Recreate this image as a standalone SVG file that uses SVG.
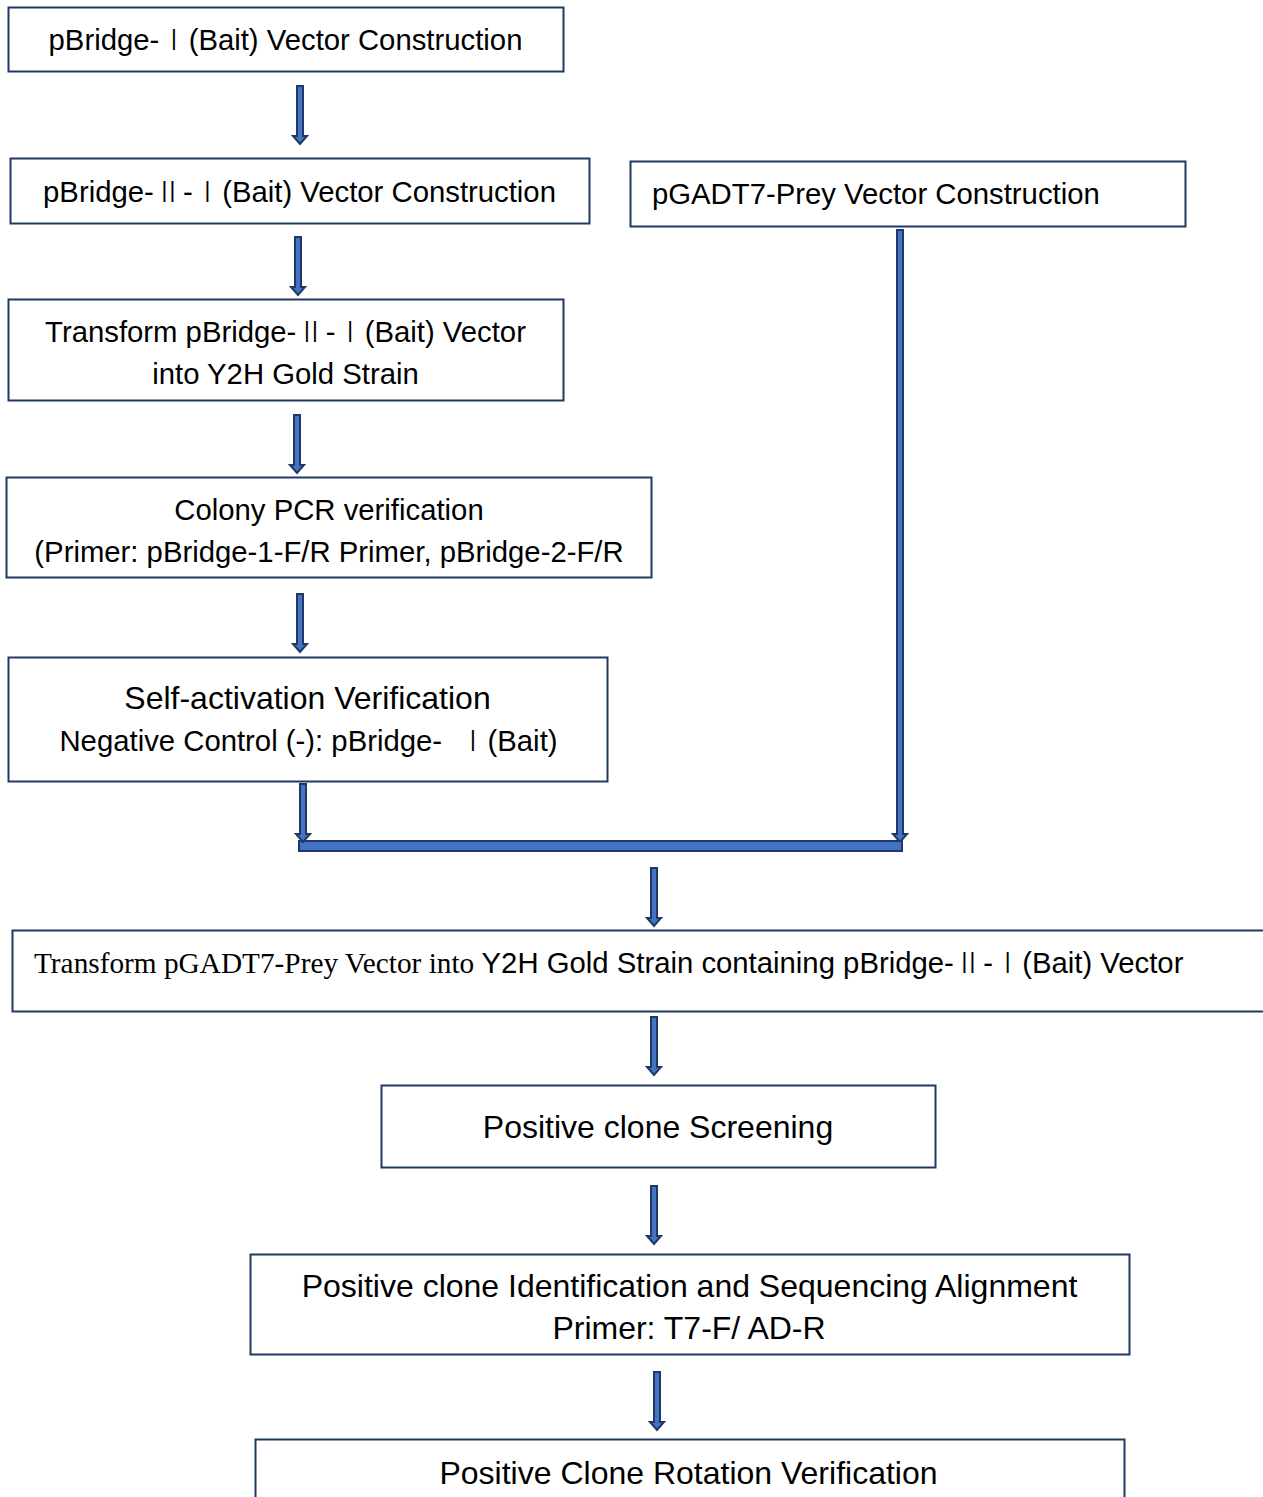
<svg xmlns="http://www.w3.org/2000/svg" xmlns:xlink="http://www.w3.org/1999/xlink" width="1263" height="1497" viewBox="0 0 1263 1497">
<style>
.box{fill:#fff;stroke:#1F3864;stroke-width:2}
.t{font-family:"Liberation Sans",Arial,sans-serif;font-size:29.3px;fill:#000}
.big{font-size:32px}
.ser{font-family:"Liberation Serif","Times New Roman",serif}
.r{font-family:"Noto Sans CJK SC",sans-serif;font-weight:300}
.c{text-anchor:middle}
.conn{fill:#4472C4;stroke:#1F3864;stroke-width:2;stroke-linejoin:miter}
</style>
<defs>
<path id="arr" class="conn" d="M-3,0 H3 V50 H7 L0,58 L-7,50 H-3 Z"/>
</defs>
<rect width="1263" height="1497" fill="#fff"/>
<g id="n1"><rect class="box" x="8.5" y="7.5" width="555" height="64"/>
<text class="t c" x="285.5" y="50">pBridge-<tspan class="r">Ⅰ</tspan>(Bait) Vector Construction</text></g>
<g id="n2"><rect class="box" x="10.5" y="158.5" width="579" height="65"/>
<text class="t c" x="299.5" y="202">pBridge-<tspan class="r">Ⅱ</tspan>-<tspan class="r">Ⅰ</tspan>(Bait) Vector Construction</text></g>
<g id="n3"><rect class="box" x="630.5" y="161.5" width="555" height="65"/>
<text class="t" x="652" y="204">pGADT7-Prey Vector Construction</text></g>
<g id="n4"><rect class="box" x="8.5" y="299.5" width="555" height="101"/>
<text class="t c" x="285.5" y="342">Transform pBridge-<tspan class="r">Ⅱ</tspan>-<tspan class="r">Ⅰ</tspan>(Bait) Vector</text>
<text class="t c" x="285.5" y="384">into Y2H Gold Strain</text></g>
<g id="n5"><rect class="box" x="6.5" y="477.5" width="645" height="100"/>
<text class="t c" x="329" y="520">Colony PCR verification</text>
<text class="t c" x="329" y="562">(Primer: pBridge-1-F/R Primer, pBridge-2-F/R</text></g>
<g id="n6"><rect class="box" x="8.5" y="657.5" width="599" height="124"/>
<text class="t big c" x="307.5" y="709">Self-activation Verification</text>
<text class="t c" x="308.5" y="751">Negative Control (-): pBridge- <tspan class="r" dx="8">Ⅰ</tspan>(Bait)</text></g>
<g id="n7"><rect class="box" x="12.5" y="930.5" width="1262" height="81"/>
<text class="t" x="34" y="973"><tspan class="ser">Transform pGADT7-Prey Vector into </tspan>Y2H Gold Strain containing pBridge-<tspan class="r">Ⅱ</tspan>-<tspan class="r">Ⅰ</tspan>(Bait) Vector</text></g>
<g id="n8"><rect class="box" x="381.5" y="1085.5" width="554" height="82"/>
<text class="t big c" x="658" y="1138">Positive clone Screening</text></g>
<g id="n9"><rect class="box" x="250.5" y="1254.5" width="879" height="100"/>
<text class="t big c" x="689.5" y="1297">Positive clone Identification and Sequencing Alignment</text>
<text class="t big c" x="689" y="1339">Primer: T7-F/ AD-R</text></g>
<g id="n10"><rect class="box" x="255.5" y="1439.5" width="869" height="80"/>
<text class="t big c" x="688.5" y="1484">Positive Clone Rotation Verification</text></g>
<g id="connectors">
<use xlink:href="#arr" x="300" y="86"/>
<use xlink:href="#arr" x="298" y="237"/>
<use xlink:href="#arr" x="297" y="415"/>
<use xlink:href="#arr" x="300" y="594"/>
<path class="conn" d="M897,230 H903 V834 H907 L900,842 L893,834 H897 Z"/>
<rect class="conn" x="299" y="841" width="603" height="10"/>
<use xlink:href="#arr" x="303" y="784"/>
<use xlink:href="#arr" x="654" y="868"/>
<use xlink:href="#arr" x="654" y="1017"/>
<use xlink:href="#arr" x="654" y="1186"/>
<use xlink:href="#arr" x="657" y="1372"/>
</g>
</svg>
